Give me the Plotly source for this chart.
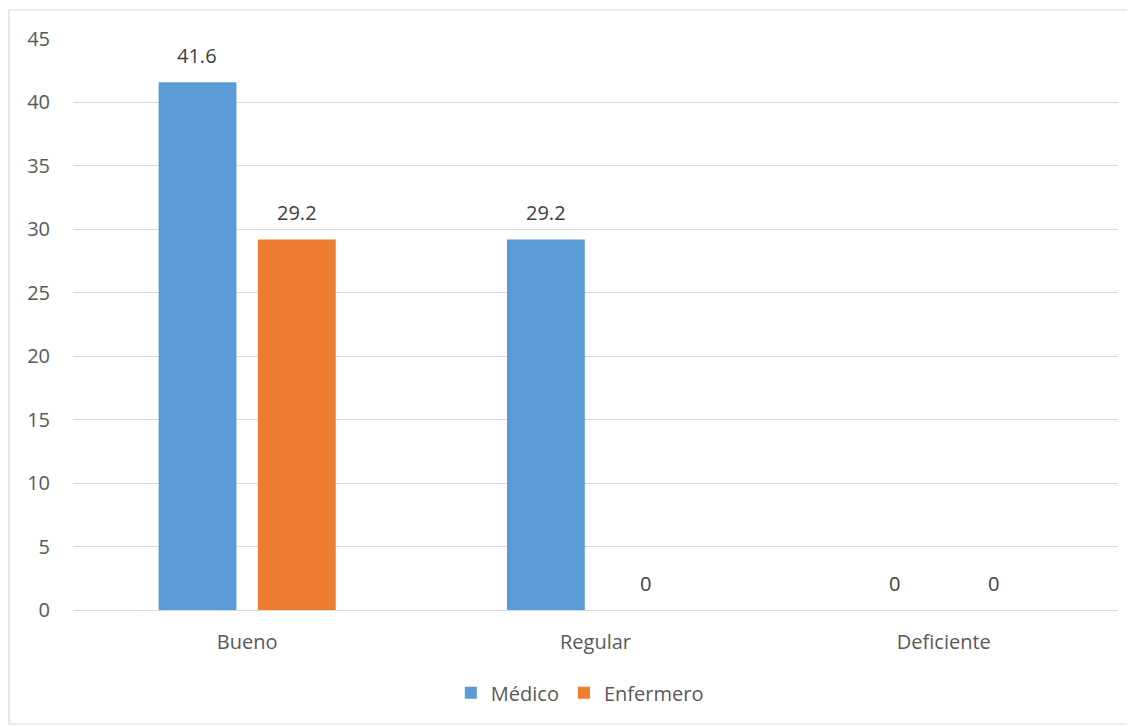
import plotly.graph_objects as go

categories = ["Bueno", "Regular", "Deficiente"]
medico = [41.6, 29.2, 0]
enfermero = [29.2, 0, 0]
series_names = ["Médico", "Enfermero"]

colors = ["#5B9BD5", "#ED7D31"]
txt = "#595959"
font_family = "Open Sans, Liberation Sans, sans-serif"

fig = go.Figure()
for name, vals, col in zip(series_names, [medico, enfermero], colors):
    fig.add_trace(go.Bar(x=categories, y=vals, name=name, marker_color=col,
                         marker_line_width=0))

# page offset of 8px (body margin)
OFF = 8
W, H = 1127, 718
L, R, T, B = 73 - OFF, 17, 39 - OFF, 116
pw, ph = W - L - R, H - T - B
plot_left_page, plot_bottom_page = 73, 610

annotations = []
for vals, shift in zip([medico, enfermero], [-49.75, 49.75]):
    for c, v in zip(categories, vals):
        annotations.append(dict(x=c, y=v, xref="x", yref="y", text=f"{v:g}",
                                showarrow=False, xshift=shift, yshift=27,
                                font=dict(size=20, color="#404040", family=font_family)))

fig.update_layout(
    width=W, height=H,
    margin=dict(l=L, r=R, t=T, b=B),
    paper_bgcolor="white", plot_bgcolor="white",
    barmode="group", bargap=0.43, bargroupgap=0.216,
    font=dict(family=font_family, size=20, color=txt),
    showlegend=True,
    legend=dict(orientation="h", x=0.485, xanchor="center", y=-0.145, yanchor="middle",
                font=dict(size=20, color=txt), traceorder="normal"),
    annotations=annotations,
    shapes=[dict(type="rect", xref="paper", yref="paper",
                 x0=(9 - plot_left_page) / pw, x1=(1133 - plot_left_page) / pw,
                 y0=(plot_bottom_page - 724) / ph, y1=(plot_bottom_page - 10) / ph,
                 line=dict(color="#D9D9D9", width=1.2), fillcolor="rgba(0,0,0,0)", layer="below")],
)
fig.update_yaxes(range=[0, 45], dtick=5, showgrid=True, gridcolor="#D9D9D9", gridwidth=1.2,
                 zeroline=True, zerolinecolor="#D9D9D9", zerolinewidth=1.2,
                 ticks="", ticklabelstandoff=22, tickfont=dict(size=20, color=txt), showline=False)
fig.update_xaxes(showgrid=False, ticks="", tickfont=dict(size=20, color=txt), ticklabelstandoff=14,
                 showline=True, linecolor="#D9D9D9", linewidth=1.2)

fig.write_html("out.html")
